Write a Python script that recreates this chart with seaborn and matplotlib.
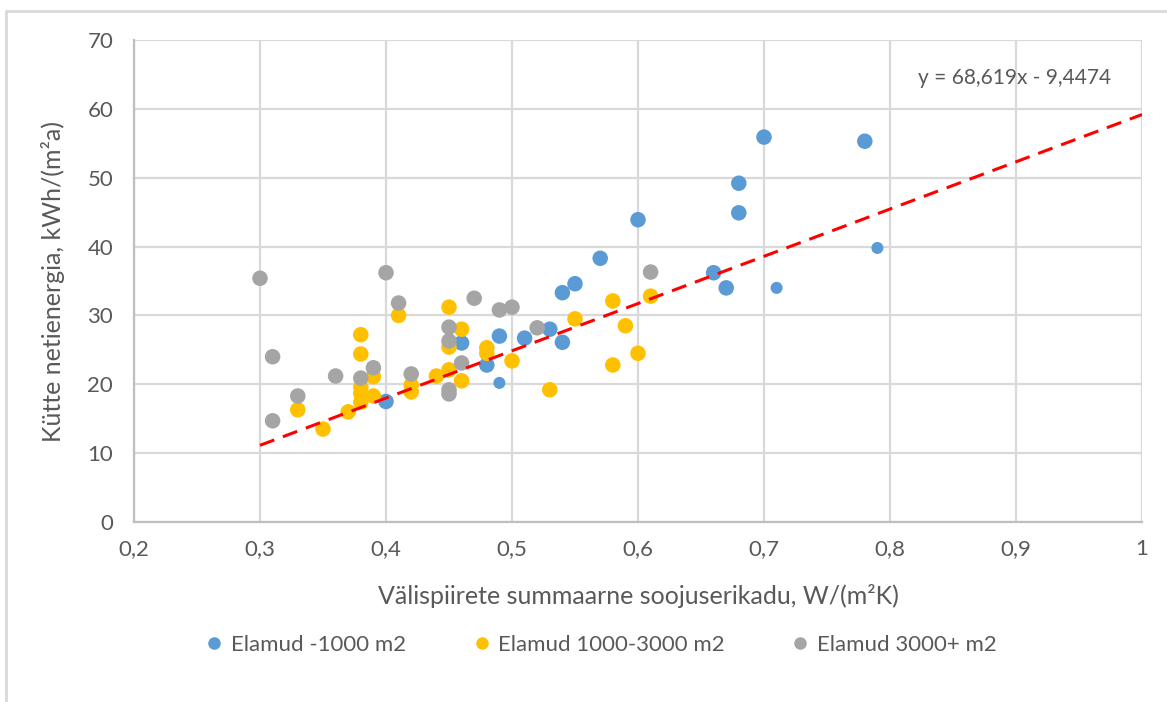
import numpy as np
import pandas as pd
import matplotlib.pyplot as plt
import seaborn as sns
from matplotlib.lines import Line2D


# ============================================================
# ANDMED
# ============================================================

x_small = [0.40, 0.46, 0.48, 0.49, 0.51, 0.53, 0.54, 0.54, 0.55, 0.57,
           0.60, 0.66, 0.67, 0.68, 0.68, 0.70, 0.78]
y_small = [17.5, 26.0, 22.8, 27.0, 26.7, 28.0, 33.3, 26.1, 34.6, 38.3,
           43.9, 36.2, 34.0, 49.2, 44.9, 55.9, 55.3]

# blue points drawn smaller in the original
x_small_extra = [0.49, 0.71, 0.79]
y_small_extra = [20.2, 34.0, 39.8]

x_mid = [0.33, 0.35, 0.37, 0.38, 0.38, 0.38, 0.38, 0.38, 0.39, 0.39,
         0.41, 0.42, 0.42, 0.44, 0.45, 0.45, 0.45, 0.46, 0.46, 0.48,
         0.48, 0.50, 0.53, 0.55, 0.58, 0.58, 0.59, 0.60, 0.61]
y_mid = [16.3, 13.5, 16.0, 27.2, 24.4, 19.6, 18.7, 17.4, 21.1, 18.3,
         30.0, 19.9, 18.9, 21.2, 31.2, 25.4, 22.1, 28.0, 20.5, 25.3,
         24.5, 23.4, 19.2, 29.5, 32.1, 22.8, 28.5, 24.5, 32.8]

x_large = [0.30, 0.31, 0.31, 0.33, 0.36, 0.38, 0.39, 0.40, 0.41, 0.42,
           0.45, 0.45, 0.45, 0.45, 0.46, 0.47, 0.49, 0.50, 0.52, 0.61]
y_large = [35.4, 24.0, 14.7, 18.3, 21.2, 20.9, 22.4, 36.2, 31.8, 21.5,
           28.3, 26.3, 19.2, 18.6, 23.1, 32.5, 30.8, 31.2, 28.2, 36.3]

groups = ["Elamud -1000 m2", "Elamud 1000-3000 m2", "Elamud 3000+ m2"]
colors = ["#5B9BD5", "#FFC000", "#A5A5A5"]

# trendijoon (Exceli valem)
slope = 68.619
intercept = -9.4474
trend_x = [0.3, 1.0]
equation = "y = 68,619x - 9,4474"

df = pd.DataFrame({
    "x": x_small + x_mid + x_large,
    "y": y_small + y_mid + y_large,
    "grupp": [groups[0]] * len(x_small) + [groups[1]] * len(x_mid)
             + [groups[2]] * len(x_large),
})
df_extra = pd.DataFrame({"x": x_small_extra, "y": y_small_extra})


# ============================================================
# JOONIS
# ============================================================

sns.set_style("white")
plt.rcParams["font.family"] = ["Lato", "DejaVu Sans"]
text_color = "#595959"
grid_color = "#D9D9D9"

fig = plt.figure(figsize=(11.67, 7.02), dpi=100)
ax = fig.add_axes([134 / 1167, 1 - 522 / 702, (1142 - 134) / 1167, (522 - 40) / 702])

# outer chart border (left and top visible)
fig.add_artist(Line2D([6 / 1167, 6 / 1167], [0, 1 - 11 / 702],
                      color=grid_color, lw=2, transform=fig.transFigure))
fig.add_artist(Line2D([6 / 1167, 1], [1 - 11 / 702, 1 - 11 / 702],
                      color=grid_color, lw=2, transform=fig.transFigure))

sns.scatterplot(data=df, x="x", y="y", hue="grupp", hue_order=groups,
                palette=colors, s=125, edgecolor="none", legend=False,
                ax=ax, zorder=3)
sns.scatterplot(data=df_extra, x="x", y="y", color=colors[0], s=75,
                edgecolor="none", legend=False, ax=ax, zorder=3)

tx = np.array(trend_x)
ax.plot(tx, slope * tx + intercept, color="#FF0000", lw=2.2,
        linestyle=(0, (5, 3)), zorder=4)

ax.text(0.899, 64.5, equation, ha="center", va="center",
        fontsize=15, color=text_color)

ax.set_xlim(0.2, 1.0)
ax.set_ylim(0, 70)
ax.set_xticks(np.arange(0.2, 1.01, 0.1))
ax.set_yticks(np.arange(0, 71, 10))
ax.set_xticklabels(["0,2", "0,3", "0,4", "0,5", "0,6", "0,7", "0,8", "0,9", "1"])
ax.tick_params(axis="both", length=0, labelsize=16, colors=text_color)
ax.tick_params(axis="x", pad=12)
ax.tick_params(axis="y", pad=15)

ax.grid(True, color=grid_color, lw=1.6, zorder=0)
ax.set_axisbelow(True)
for side in ["top", "right"]:
    ax.spines[side].set_visible(False)
for side in ["left", "bottom"]:
    ax.spines[side].set_color("#BFBFBF")
    ax.spines[side].set_linewidth(1.6)

ax.set_xlabel("Välispiirete summaarne soojuserikadu, W/(m²K)",
              fontsize=18, color=text_color, labelpad=18)
ax.set_ylabel("Kütte netienergia, kWh/(m²a)",
              fontsize=18, color=text_color, labelpad=16)

handles = [Line2D([], [], marker="o", linestyle="none", markersize=9,
                  markerfacecolor=c, markeredgecolor="none") for c in colors]
fig.legend(handles, groups, loc="center", bbox_to_anchor=(600 / 1167, 1 - 645 / 702),
           ncol=3, frameon=False, fontsize=16, labelcolor=text_color,
           handletextpad=0.25, columnspacing=2.9, handlelength=1.0,
           borderaxespad=0, borderpad=0)

plt.savefig("out.png", dpi=100)
plt.close()
